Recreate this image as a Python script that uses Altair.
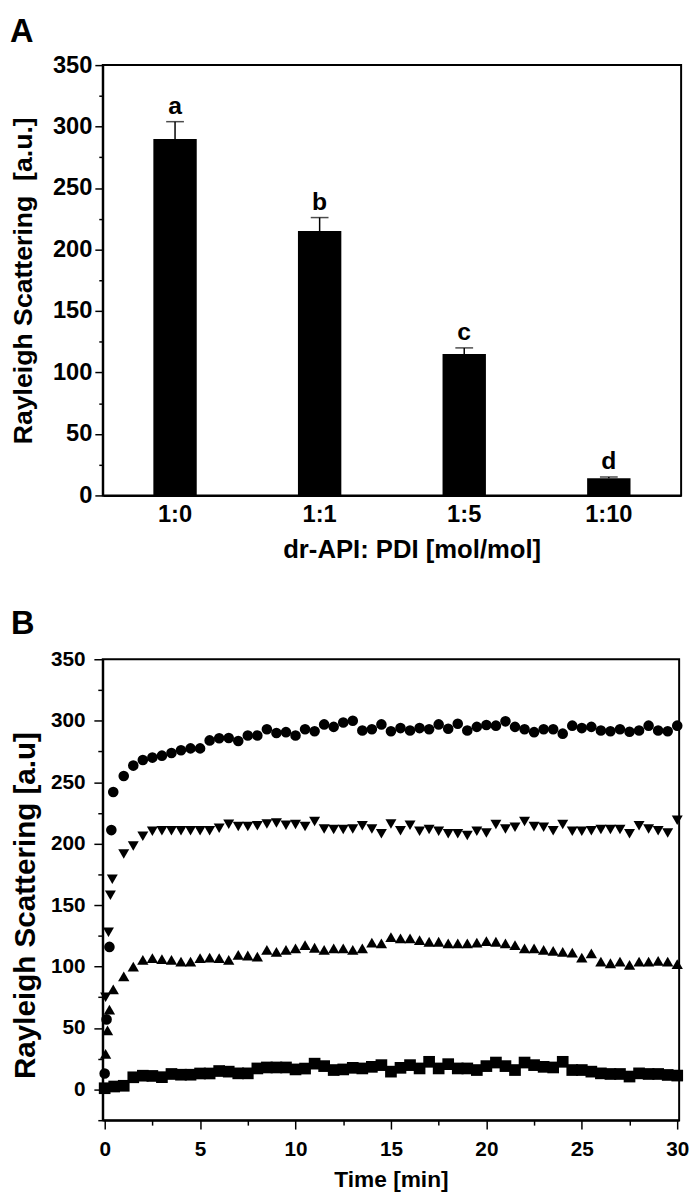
import altair as alt
import pandas as pd

FONT = "Liberation Sans"

# ---------------- Panel A data ----------------
ratios = ["1:0", "1:1", "1:5", "1:10"]
means = [290, 215, 115, 14]
err_top = [304, 226, 120, 15]
letters = ["a", "b", "c", "d"]

# ---------------- Panel B data ----------------
time_grid = [1.0, 1.5, 2.0, 2.5, 3.0, 3.5, 4.0, 4.5, 5.0, 5.5, 6.0, 6.5, 7.0, 7.5,
             8.0, 8.5, 9.0, 9.5, 10.0, 10.5, 11.0, 11.5, 12.0, 12.5, 13.0, 13.5,
             14.0, 14.5, 15.0, 15.5, 16.0, 16.5, 17.0, 17.5, 18.0, 18.5, 19.0,
             19.5, 20.0, 20.5, 21.0, 21.5, 22.0, 22.5, 23.0, 23.5, 24.0, 24.5,
             25.0, 25.5, 26.0, 26.5, 27.0, 27.5, 28.0, 28.5, 29.0, 29.5, 30.0]

circ_t0 = [0.0, 0.1, 0.25, 0.35, 0.45]
circ_v0 = [13, 57, 116, 211, 242]
circ_v = [255, 263.5, 268, 270, 271.6, 273.7, 276, 277.5, 277.5, 284, 285.7, 286,
          283.5, 288, 288, 293, 290, 290.7, 288, 293, 291.5, 297, 295, 298.5, 300,
          292, 293, 297, 291.5, 294, 292, 294, 293, 297, 293.5, 297.5, 292, 295,
          296.5, 296, 299.5, 295, 293, 290.7, 293, 293, 289.5, 296, 294, 295, 292,
          291.5, 293, 291, 292, 296, 292, 291.5, 296]

tdn_t0 = [0.05, 0.2, 0.3, 0.4]
tdn_v0 = [75, 128, 158, 171]
tdn_v = [191.6, 198, 206, 210, 210.4, 210.4, 210.4, 210.4, 210.4, 210.4, 212.6,
         215.8, 214, 214, 214.5, 216, 216.7, 215, 215.5, 214, 218, 212, 211.6,
         211.6, 212, 214.5, 212, 208, 216, 210.4, 215, 210, 211.6, 210, 208, 208,
         206.6, 210, 208.6, 215.5, 212, 213.4, 218, 214, 213.4, 210.4, 215.5, 210,
         210, 210.4, 211.6, 211.6, 211.6, 208, 214.5, 212, 210.4, 208.6, 219]

tup_t0 = [0.05, 0.15, 0.25, 0.45]
tup_v0 = [29, 48, 65, 81.5]
tup_v = [92, 100, 105.5, 106.8, 106, 105.5, 104, 104, 106.8, 107.3, 106.8, 105.5,
         109.5, 109, 108, 113.5, 112, 113.5, 114.8, 117.5, 115.3, 113.5, 114.8,
         114.8, 113.5, 114.8, 119.4, 118.8, 124, 122.9, 122.9, 121.5, 120.2, 120.2,
         118.8, 118.8, 118.8, 119.4, 120.7, 120.2, 118.8, 117.5, 114.8, 114.8,
         113.5, 112.7, 112, 111.3, 107.3, 110.7, 104, 102.7, 104, 101.4, 104, 104,
         104.6, 104, 101.9]

sq_t0 = [0.0, 0.5]
sq_v0 = [1, 2.4]
sq_v = [3, 9.9, 11.2, 11, 10, 12.6, 12, 12, 13, 13, 15, 14.5, 13.1, 13.1, 17.1,
        17.9, 17.9, 17.9, 16.3, 17, 21, 19, 15.8, 16.3, 17.6, 17.1, 18.4, 19.8,
        14.5, 17.6, 19.8, 17.1, 22.5, 17.1, 20.6, 17.1, 17.1, 15.8, 19, 21.9, 19,
        15.8, 21.9, 19.8, 18.4, 17.9, 22.5, 15.8, 15.8, 14.5, 13.1, 12.6, 12.6,
        10.5, 13.1, 12.6, 12.6, 11.8, 11.3]

series_names = ["1:0", "1:1", "1:5", "1:10"]
series_shapes = ["circle", "triangle-down", "triangle-up", "square"]
series_sizes = [115, 140, 140, 105]

# ---------------- build tables ----------------
dfA = pd.DataFrame({"ratio": ratios, "mean": means, "err": err_top, "letter": letters})

rows = []
for name, t0, v0, v in [("1:0", circ_t0, circ_v0, circ_v),
                        ("1:1", tdn_t0, tdn_v0, tdn_v),
                        ("1:5", tup_t0, tup_v0, tup_v),
                        ("1:10", sq_t0, sq_v0, sq_v)]:
    for t, y in zip(t0 + time_grid, v0 + v):
        rows.append({"series": name, "t": t, "v": y})
dfB = pd.DataFrame(rows)

# ---------------- Panel A ----------------
yA_scale = alt.Scale(domain=[0, 350], nice=False)
xA = alt.X("ratio:N", sort=ratios,
           scale=alt.Scale(paddingInner=0.7, paddingOuter=0.35),
           axis=alt.Axis(title="dr-API: PDI [mol/mol]", labelAngle=0, ticks=False,
                         tickSize=0, labelPadding=7, labelFontSize=24,
                         titleFontSize=26, titlePadding=11, titleX=313))

baseA = alt.Chart(dfA).encode(x=xA)
bars = baseA.mark_bar(color="black").encode(
    y=alt.Y("mean:Q", scale=yA_scale,
            axis=alt.Axis(title="Rayleigh Scattering\u00a0 [a.u.]",
                          values=[0, 50, 100, 150, 200, 250, 300, 350],
                          tickSize=8, labelPadding=3, labelFontSize=24,
                          titleFontSize=27, titlePadding=15)))
errs = baseA.mark_rule(color="black", strokeWidth=1.5).encode(
    y=alt.Y("mean:Q", scale=yA_scale, axis=None), y2="err:Q")
caps = baseA.mark_tick(color="black", thickness=1.5, size=18, orient="horizontal").encode(
    y=alt.Y("err:Q", scale=yA_scale, axis=None))
labs = baseA.mark_text(fontSize=25, fontWeight="bold", baseline="alphabetic", dy=-8,
                       font=FONT, color="black").encode(
    y=alt.Y("err:Q", scale=yA_scale, axis=None), text="letter:N")
minorA = baseA.mark_point(opacity=0).encode(
    y=alt.Y("mean:Q", scale=yA_scale,
            axis=alt.Axis(values=[25, 75, 125, 175, 225, 275, 325], tickSize=4,
                          labels=False, domain=False, title=None, orient="left")))

panelA = alt.layer(bars, errs, caps, labs, minorA).resolve_axis(y="independent").properties(
    width=586, height=436,
    title=alt.TitleParams("A", anchor="start", frame="bounds", fontSize=33,
                          fontWeight="bold", font=FONT, offset=4, color="black"))

# ---------------- Panel B ----------------
xB_scale = alt.Scale(domain=[-0.1, 30.1], nice=False)
yB_scale = alt.Scale(domain=[-25, 350], nice=False)

pts = alt.Chart(dfB).mark_point(filled=True, opacity=1, color="black").encode(
    x=alt.X("t:Q", scale=xB_scale,
            axis=alt.Axis(title="Time [min]", values=[0, 5, 10, 15, 20, 25, 30],
                          tickSize=9, labelPadding=10, labelFontSize=21,
                          titleFontSize=23, titlePadding=9)),
    y=alt.Y("v:Q", scale=yB_scale,
            axis=alt.Axis(title="Rayleigh Scattering [a.u]",
                          values=[0, 50, 100, 150, 200, 250, 300, 350],
                          tickSize=9, labelPadding=9, labelFontSize=21,
                          titleFontSize=30, titlePadding=10, titleY=249)),
    shape=alt.Shape("series:N", scale=alt.Scale(domain=series_names, range=series_shapes),
                    legend=None),
    size=alt.Size("series:N", scale=alt.Scale(domain=series_names, range=series_sizes),
                  legend=None),
)
minorB = alt.Chart(dfB).mark_point(opacity=0).encode(
    x=alt.X("t:Q", scale=xB_scale,
            axis=alt.Axis(values=[2.5, 7.5, 12.5, 17.5, 22.5, 27.5], tickSize=5,
                          labels=False, domain=False, title=None, orient="bottom")),
    y=alt.Y("v:Q", scale=yB_scale,
            axis=alt.Axis(values=[-25, 25, 75, 125, 175, 225, 275, 325], tickSize=5,
                          labels=False, domain=False, title=None, orient="left")),
)

panelB = alt.layer(pts, minorB).resolve_axis(x="independent", y="independent").properties(
    width=584, height=467,
    title=alt.TitleParams("B", anchor="start", frame="bounds", fontSize=33,
                          fontWeight="bold", font=FONT, offset=8, color="black"))

chart = alt.vconcat(panelA, panelB, spacing=44).properties(
    padding={"left": 0, "top": 0, "right": 0, "bottom": 0}
).configure(font=FONT).configure_axis(
    labelFont=FONT, titleFont=FONT, labelFontWeight="bold", titleFontWeight="bold",
    labelColor="black", titleColor="black", domainColor="black", domainWidth=2,
    tickColor="black", tickWidth=1.5, grid=False
).configure_view(stroke="black", strokeWidth=2)

chart.save("out.html", embed_options={"renderer": "svg", "actions": False})
